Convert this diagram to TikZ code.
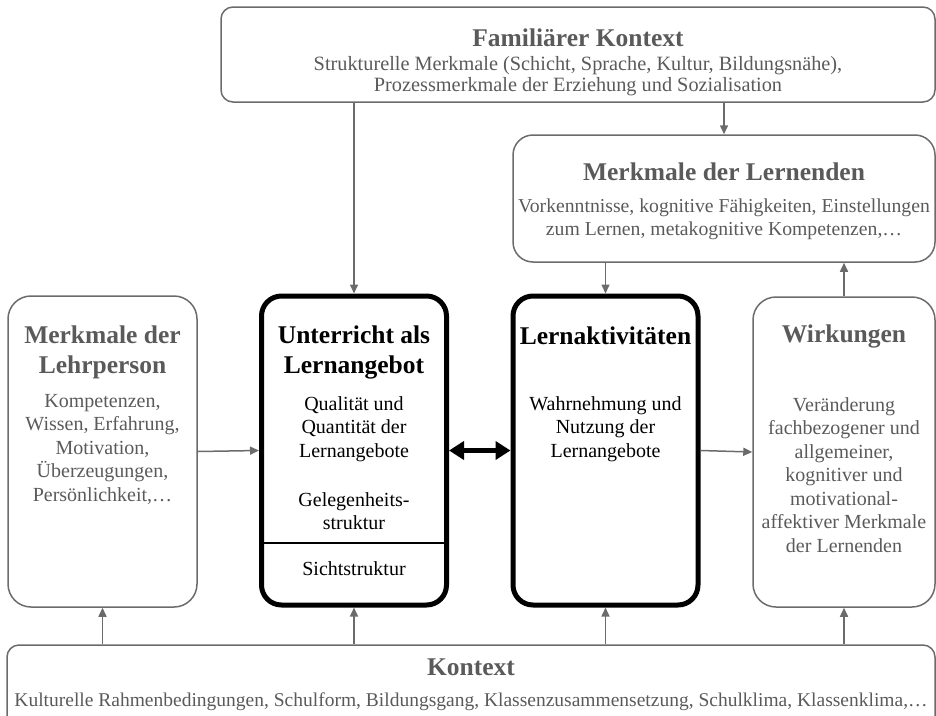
\documentclass[tikz,border=0pt]{standalone}
\usepackage{fontspec}
\setmainfont{Liberation Serif}
\usepackage{xcolor}
\usetikzlibrary{arrows.meta}
\definecolor{framegray}{HTML}{6B6B6B}
\definecolor{textgray}{HTML}{5A5A5A}

\begin{document}
\begin{tikzpicture}[x=1pt,y=-1pt,
    box/.style={draw=framegray,line width=1.5pt,inner sep=0pt},
    corebox/.style={draw=black,line width=5pt,inner sep=0pt,rounded corners=20pt,minimum width=185pt,minimum height=309pt},
    ttl/.style={font=\fontsize{25.5}{30}\selectfont\bfseries,align=center,text=textgray},
    txt/.style={font=\fontsize{20}{23.5}\selectfont,align=center,text=textgray},
    flow/.style={draw=framegray,line width=1.5pt,-{Triangle[length=9pt,width=8pt]}},
    swap/.style={draw=black,line width=5pt,{Triangle[length=15pt,width=18pt]}-{Triangle[length=15pt,width=18pt]}}]
    \useasboundingbox (0,0) rectangle (936,715);
    \clip (0,0) rectangle (936,715);
    \node[box,rounded corners=12pt,minimum width=714pt,minimum height=95pt] (fam) at (578,54.5) {};
    \node[box,rounded corners=20pt,minimum width=422pt,minimum height=127pt] (lern) at (724,198.5) {};
    \node[box,rounded corners=23pt,minimum width=189pt,minimum height=311pt] (lehr) at (102.5,451.5) {};
    \node[corebox] (unt) at (354,450.5) {};
    \node[corebox] (akt) at (605.5,450.5) {};
    \node[box,rounded corners=23pt,minimum width=182pt,minimum height=310pt] (wirk) at (844,452) {};
    \node[box,rounded corners=12pt,minimum width=928pt,minimum height=100pt] (kon) at (471,695) {};
    \node[ttl] (famT) at (578,38) {Familiärer Kontext};
    \node[txt,font=\fontsize{20.3}{21}\selectfont] (famB) at (578,76) {Strukturelle Merkmale (Schicht, Sprache, Kultur, Bildungsnähe),\\Prozessmerkmale der Erziehung und Sozialisation};
    \node[ttl] (lernT) at (724,172) {Merkmale der Lernenden};
    \node[txt,font=\fontsize{19.7}{23}\selectfont] (lernB) at (724,219) {Vorkenntnisse, kognitive Fähigkeiten, Einstellungen\\zum Lernen, metakognitive Kompetenzen,\dots};
    \node[ttl] (lehrT) at (102.5,352) {Merkmale der\\Lehrperson};
    \node[txt] (lehrB) at (102.5,449) {Kompetenzen,\\Wissen, Erfahrung,\\Motivation,\\Überzeugungen,\\Persönlichkeit,\dots};
    \node[ttl,text=black] (untT) at (354,352) {Unterricht als\\Lernangebot};
    \node[txt,text=black] (untB) at (354,429) {Qualität und\\Quantität der\\Lernangebote};
    \node[txt,text=black] (untG) at (354,511) {Gelegenheits-\\struktur};
    \node[txt,text=black] (untS) at (354,569) {Sichtstruktur};
    \draw[black,line width=1.5pt] (260,543) -- (448,543);
    \node[ttl,text=black] (aktT) at (605.5,336) {Lernaktivitäten};
    \node[txt,text=black] (aktB) at (605.5,429) {Wahrnehmung und\\Nutzung der\\Lernangebote};
    \node[ttl] (wirkT) at (844,336) {Wirkungen};
    \node[txt] (wirkB) at (844,475) {Veränderung\\fachbezogener und\\allgemeiner,\\kognitiver und\\motivational-\\affektiver Merkmale\\der Lernenden};
    \node[ttl] (konT) at (471,667) {Kontext};
    \node[txt,font=\fontsize{19.5}{23}\selectfont] (konB) at (471,702) {Kulturelle Rahmenbedingungen, Schulform, Bildungsgang, Klassenzusammensetzung, Schulklima, Klassenklima,\dots};
    \draw[flow] (fam.south -| unt.north) -- (unt.north);
    \draw[flow] (fam.south -| lern.north) -- (lern.north);
    \draw[flow] (lern.south -| akt.north) -- (akt.north);
    \draw[flow] (wirk.north) -- (wirk.north |- lern.south);
    \draw[flow] (lehr.east) -- (unt.west);
    \draw[swap] (unt.east) -- (akt.west);
    \draw[flow] (akt.east) -- (wirk.west);
    \draw[flow] (kon.north -| lehr.south) -- (lehr.south);
    \draw[flow] (kon.north -| unt.south) -- (unt.south);
    \draw[flow] (kon.north -| akt.south) -- (akt.south);
    \draw[flow] (kon.north -| wirk.south) -- (wirk.south);
\end{tikzpicture}
\end{document}
